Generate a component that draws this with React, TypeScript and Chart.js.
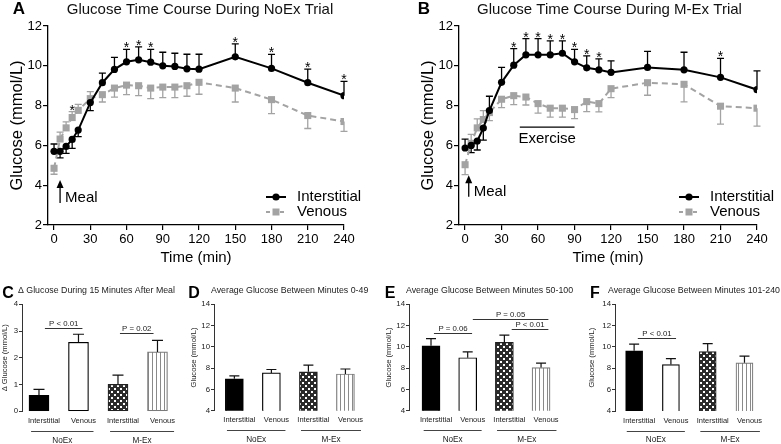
import React, { useEffect, useRef } from "react";
import { Chart, registerables } from "chart.js";

Chart.register(...registerables);

const FONT = '"Liberation Sans", Arial, Helvetica, sans-serif';
const GRAY = "#a3a3a3";

// ---------- Panels A / B : time course ----------
const timePoints = [0, 5, 10, 15, 20, 30, 40, 50, 60, 70, 80, 90, 100, 110, 120, 150, 180, 210, 240];
const timeTicks = [0, 30, 60, 90, 120, 150, 180, 210, 240];
const glucoseTicks = [2, 4, 6, 8, 10, 12];

const noexInterstitial = [5.7, 5.7, 5.95, 6.3, 6.77, 8.15, 9.15, 9.82, 10.2, 10.3, 10.18, 10.0, 9.97, 9.85, 9.83, 10.45, 9.87, 9.15, 8.5];
const noexInterstitialErr = [0.37, 0.33, 0.35, 0.45, 0.33, 0.4, 0.48, 0.6, 0.63, 0.65, 0.65, 0.68, 0.66, 0.73, 0.75, 0.65, 0.7, 0.68, 0.72];
const noexVenous = [4.85, 6.32, 6.88, 7.4, 7.76, 8.35, 8.55, 8.88, 9.03, 9.0, 8.88, 8.93, 8.93, 9.0, 9.17, 8.88, 8.3, 7.5, 7.2];
const noexVenousErr = [0.3, 0.35, 0.3, 0.3, 0.3, 0.35, 0.37, 0.45, 0.48, 0.5, 0.53, 0.53, 0.53, 0.53, 0.6, 0.7, 0.7, 0.65, 0.5];
const noexStarsInterstitial = [60, 70, 80, 150, 180, 210, 240];
const noexStarsVenous = [15];

const mexInterstitial = [5.87, 6.0, 6.22, 6.87, 7.75, 9.17, 10.03, 10.55, 10.55, 10.55, 10.63, 10.2, 9.9, 9.8, 9.67, 9.92, 9.8, 9.42, 8.8];
const mexInterstitialErr = [0.45, 0.36, 0.45, 0.6, 0.72, 0.75, 0.83, 0.82, 0.82, 0.7, 0.62, 0.63, 0.6, 0.55, 0.58, 0.8, 0.88, 0.95, 0.95];
const mexVenous = [5.03, 6.1, 6.88, 7.3, 7.65, 8.32, 8.5, 8.43, 8.1, 7.87, 7.87, 7.8, 8.2, 8.1, 8.85, 9.15, 9.07, 7.97, 7.87];
const mexVenousErr = [0.5, 0.45, 0.45, 0.45, 0.4, 0.42, 0.45, 0.4, 0.48, 0.45, 0.45, 0.45, 0.5, 0.42, 0.45, 0.63, 0.88, 0.9, 0.9];
const mexStarsInterstitial = [40, 50, 60, 70, 80, 90, 100, 110, 210];
const mexStarsVenous: number[] = [];

// ---------- Panels C-F : bars ----------
const barCategories = ["Interstitial", "Venous", "Interstitial", "Venous"];
const barGroups = ["NoEx", "M-Ex"];
const deltaTicks = [0, 1, 2, 3, 4];
const avgTicks = [4, 6, 8, 10, 12, 14];

const deltaMeal = [0.6, 2.58, 1.01, 2.22];
const deltaMealErr = [0.22, 0.3, 0.34, 0.43];
const avg0to49 = [7.0, 7.55, 7.66, 7.45];
const avg0to49Err = [0.28, 0.32, 0.62, 0.47];
const avg50to100 = [10.1, 8.98, 10.42, 8.05];
const avg50to100Err = [0.68, 0.55, 0.68, 0.43];
const avg101to240 = [9.65, 8.35, 9.57, 8.52];
const avg101to240Err = [0.62, 0.56, 0.75, 0.63];

const pValuesC = [
  { from: 0.15, to: 1.1, level: 3.11, text: "P < 0.01" },
  { from: 2.05, to: 2.9, level: 2.93, text: "P = 0.02" },
];
const pValuesD: { from: number; to: number; level: number; text: string }[] = [];
const pValuesE = [
  { from: 0.08, to: 1.12, level: 11.3, text: "P = 0.06" },
  { from: 1.14, to: 3.2, level: 12.62, text: "P = 0.05" },
  { from: 2.2, to: 3.2, level: 11.68, text: "P < 0.01" },
];
const pValuesF = [{ from: 0.1, to: 1.14, level: 10.82, text: "P < 0.01" }];

// ---------- layout specs ----------
const timePanels = [
  {
    box: { left: 0, top: 0, w: 390, h: 280 },
    padLeft: 0, padRight: 46,
    letter: "A", letterX: 19, title: "Glucose Time Course During NoEx Trial", titleX: 200,
    inter: noexInterstitial, interErr: noexInterstitialErr, ven: noexVenous, venErr: noexVenousErr,
    starsInt: noexStarsInterstitial, starsVen: noexStarsVenous,
    meal: { t: 5, top: 4.26, bottom: 3.1, textY: 3.36 },
    exercise: null as null | { from: number; to: number; y: number; textY: number },
  },
  {
    box: { left: 390, top: 0, w: 391, h: 280 },
    padLeft: 21, padRight: 24,
    letter: "B", letterX: 34, title: "Glucose Time Course During M-Ex Trial", titleX: 219.5,
    inter: mexInterstitial, interErr: mexInterstitialErr, ven: mexVenous, venErr: mexVenousErr,
    starsInt: mexStarsInterstitial, starsVen: mexStarsVenous,
    meal: { t: 3, top: 4.5, bottom: 3.42, textY: 3.67 },
    exercise: { from: 45, to: 90, y: 6.92, textY: 6.35 },
  },
];

const barPanels = [
  {
    box: { left: 0, top: 280, w: 186, h: 164 },
    letter: "C", letterX: 8, title: "\u0394 Glucose During 15 Minutes After Meal", titleX: 18,
    yLabel: "\u0394 Glucose (mmol/L)", yTitlePad: 0, yAxisW: 22, padRight: 6,
    xMin: -0.43, xMax: 3.57, barW: 20, capW: 11,
    chartTop: 24.3, chartBottom: 131.3, yMin: 0, yMax: 4, ticks: deltaTicks,
    values: deltaMeal, errs: deltaMealErr, brackets: pValuesC,
  },
  {
    box: { left: 188, top: 280, w: 196, h: 164 },
    letter: "D", letterX: 6, title: "Average Glucose Between Minutes 0-49", titleX: 23,
    yLabel: "Glucose (mmol/L)", yTitlePad: 1.4, yAxisW: 26, padRight: 6,
    xMin: -0.55, xMax: 3.88, barW: 18, capW: 10,
    chartTop: 24.3, chartBottom: 130.7, yMin: 4, yMax: 14, ticks: avgTicks,
    values: avg0to49, errs: avg0to49Err, brackets: pValuesD,
  },
  {
    box: { left: 383, top: 280, w: 200, h: 164 },
    letter: "E", letterX: 7, title: "Average Glucose Between Minutes 50-100", titleX: 23,
    yLabel: "Glucose (mmol/L)", yTitlePad: 1.4, yAxisW: 26, padRight: 6,
    xMin: -0.6, xMax: 3.98, barW: 18, capW: 10,
    chartTop: 24.3, chartBottom: 130.7, yMin: 4, yMax: 14, ticks: avgTicks,
    values: avg50to100, errs: avg50to100Err, brackets: pValuesE,
  },
  {
    box: { left: 586, top: 280, w: 195, h: 164 },
    letter: "F", letterX: 9, title: "Average Glucose Between Minutes 101-240", titleX: 22,
    yLabel: "Glucose (mmol/L)", yTitlePad: 1.4, yAxisW: 29, padRight: 6,
    xMin: -0.52, xMax: 3.83, barW: 17, capW: 10,
    chartTop: 24.3, chartBottom: 131, yMin: 4, yMax: 14, ticks: avgTicks,
    values: avg101to240, errs: avg101to240Err, brackets: pValuesF,
  },
];
const groupSpans = [[-0.2, 1.38], [1.8, 3.42]];

// ---------- helpers ----------
function makeChecker(): CanvasPattern {
  const c = document.createElement("canvas");
  c.width = 6; c.height = 6;
  const g = c.getContext("2d")!;
  g.fillStyle = "#2b2b2b"; g.fillRect(0, 0, 6, 6);
  g.fillStyle = "#ffffff"; g.fillRect(0, 0, 2, 2); g.fillRect(3, 3, 2, 2);
  return g.createPattern(c, "repeat")!;
}
function makeStripes(): CanvasPattern {
  const c = document.createElement("canvas");
  c.width = 4; c.height = 4;
  const g = c.getContext("2d")!;
  g.fillStyle = "#ffffff"; g.fillRect(0, 0, 4, 4);
  g.fillStyle = "#8a8a8a"; g.fillRect(0, 0, 1, 4);
  return g.createPattern(c, "repeat")!;
}

const common = {
  responsive: false,
  maintainAspectRatio: false,
  animation: false as const,
  devicePixelRatio: 1,
  events: [] as any[],
  plugins: { legend: { display: false }, tooltip: { enabled: false }, title: { display: false } },
};

function timePlugin(p: any) {
  return {
    id: "time" + p.letter,
    beforeDatasetsDraw(chart: any) {
      const { ctx } = chart;
      const xs = chart.scales.x, ys = chart.scales.y;
      const series = [
        { v: p.inter, e: p.interErr, o: p.ven, color: "#000" },
        { v: p.ven, e: p.venErr, o: p.inter, color: GRAY },
      ];
      ctx.save();
      series.forEach((s) => {
        ctx.strokeStyle = s.color;
        ctx.lineWidth = 1.3;
        timePoints.forEach((t, i) => {
          const up = s.v[i] >= s.o[i];
          const end = up ? s.v[i] + s.e[i] : s.v[i] - s.e[i];
          const x = xs.getPixelForValue(t);
          const y0 = ys.getPixelForValue(s.v[i]);
          const y1 = ys.getPixelForValue(end);
          ctx.beginPath();
          ctx.moveTo(x, y0); ctx.lineTo(x, y1);
          ctx.moveTo(x - 3.5, y1); ctx.lineTo(x + 3.5, y1);
          ctx.stroke();
        });
      });
      ctx.restore();
    },
    afterDraw(chart: any) {
      const { ctx, chartArea } = chart;
      const xs = chart.scales.x, ys = chart.scales.y;
      ctx.save();
      // stars
      ctx.fillStyle = "#000";
      ctx.font = `14px ${FONT}`;
      ctx.textAlign = "center";
      ctx.textBaseline = "alphabetic";
      const star = (t: number, v: number[], e: number[]) => {
        const i = timePoints.indexOf(t);
        const y = ys.getPixelForValue(v[i] + e[i]);
        ctx.fillText("*", xs.getPixelForValue(t), y + 3);
      };
      p.starsInt.forEach((t: number) => star(t, p.inter, p.interErr));
      p.starsVen.forEach((t: number) => star(t, p.ven, p.venErr));
      // meal arrow
      const mx = xs.getPixelForValue(p.meal.t);
      const top = ys.getPixelForValue(p.meal.top);
      const bot = ys.getPixelForValue(p.meal.bottom);
      ctx.strokeStyle = "#000"; ctx.lineWidth = 1.3;
      ctx.beginPath(); ctx.moveTo(mx, bot); ctx.lineTo(mx, top + 6); ctx.stroke();
      ctx.beginPath(); ctx.moveTo(mx, top); ctx.lineTo(mx - 3.5, top + 8); ctx.lineTo(mx + 3.5, top + 8); ctx.closePath(); ctx.fill();
      ctx.font = `15px ${FONT}`;
      ctx.textAlign = "left"; ctx.textBaseline = "middle";
      ctx.fillText("Meal", mx + 5, ys.getPixelForValue(p.meal.textY));
      // exercise
      if (p.exercise) {
        const ey = ys.getPixelForValue(p.exercise.y);
        const x1 = xs.getPixelForValue(p.exercise.from), x2 = xs.getPixelForValue(p.exercise.to);
        ctx.lineWidth = 1.2;
        ctx.beginPath(); ctx.moveTo(x1, ey); ctx.lineTo(x2, ey); ctx.stroke();
        ctx.textAlign = "center";
        ctx.fillText("Exercise", (x1 + x2) / 2, ys.getPixelForValue(p.exercise.textY));
      }
      // legend
      const lx = chartArea.right - 78, tx = chartArea.right - 47;
      const y1 = chartArea.bottom - 28, y2 = chartArea.bottom - 13;
      ctx.strokeStyle = "#000"; ctx.lineWidth = 2;
      ctx.beginPath(); ctx.moveTo(lx, y1); ctx.lineTo(lx + 20, y1); ctx.stroke();
      ctx.beginPath(); ctx.arc(lx + 10, y1, 3.6, 0, Math.PI * 2); ctx.fill();
      ctx.strokeStyle = GRAY; ctx.setLineDash([4, 3]);
      ctx.beginPath(); ctx.moveTo(lx, y2); ctx.lineTo(lx + 20, y2); ctx.stroke();
      ctx.setLineDash([]);
      ctx.fillStyle = GRAY; ctx.fillRect(lx + 6.5, y2 - 3.5, 7, 7);
      ctx.fillStyle = "#000";
      ctx.textAlign = "left"; ctx.textBaseline = "middle";
      ctx.font = `15px ${FONT}`;
      ctx.fillText("Interstitial", tx, y1);
      ctx.fillText("Venous", tx, y2);
      // title and letter
      ctx.textAlign = "center";
      ctx.fillStyle = "#111";
      ctx.fillText(p.title, p.titleX, 10);
      ctx.font = `bold 17px ${FONT}`;
      ctx.fillStyle = "#000";
      ctx.fillText(p.letter, p.letterX, 9);
      ctx.restore();
    },
  };
}

function timeConfig(p: any): any {
  const axisStyle = {
    grid: { drawOnChartArea: false, drawTicks: true, tickLength: 5, color: "#000", lineWidth: 1.2 },
    border: { display: true, color: "#000", width: 1.3 },
  };
  return {
    type: "line",
    data: {
      datasets: [
        {
          label: "Interstitial",
          data: timePoints.map((t, i) => ({ x: t, y: p.inter[i] })),
          borderColor: "#000", backgroundColor: "#000", borderWidth: 2,
          pointStyle: "circle", pointRadius: 3.6, pointBackgroundColor: "#000", pointBorderWidth: 0,
        },
        {
          label: "Venous",
          data: timePoints.map((t, i) => ({ x: t, y: p.ven[i] })),
          borderColor: GRAY, backgroundColor: GRAY, borderWidth: 2, borderDash: [6, 4],
          pointStyle: "rect", pointRadius: 5, pointBackgroundColor: GRAY, pointBorderWidth: 0,
        },
      ],
    },
    options: {
      ...common,
      layout: { padding: { left: p.padLeft, right: p.padRight, top: 26, bottom: 0 } },
      scales: {
        x: {
          type: "linear", min: -5, max: 240,
          afterFit: (s: any) => { s.height = 55; },
          afterBuildTicks: (s: any) => { s.ticks = timeTicks.map((v) => ({ value: v })); },
          ticks: { font: { size: 13, family: FONT }, color: "#000", padding: 2, maxRotation: 0, autoSkip: false },
          title: { display: true, text: "Time (min)", color: "#000", font: { size: 15, family: FONT }, padding: { top: 0, bottom: 13 } },
          ...axisStyle,
        },
        y: {
          type: "linear", min: 2, max: 12,
          afterFit: (s: any) => { s.width = 48; },
          afterBuildTicks: (s: any) => { s.ticks = glucoseTicks.map((v) => ({ value: v })); },
          ticks: { font: { size: 13, family: FONT }, color: "#000", padding: 1 },
          title: { display: true, text: "Glucose (mmol/L)", color: "#000", font: { size: 16.5, family: FONT }, padding: { top: 8, bottom: 0 } },
          ...axisStyle,
        },
      },
    },
    plugins: [timePlugin(p)],
  };
}

function barPlugin(p: any) {
  return {
    id: "bars" + p.letter,
    afterDatasetsDraw(chart: any) {
      const { ctx } = chart;
      const xs = chart.scales.x, ys = chart.scales.y;
      ctx.save();
      ctx.strokeStyle = "#111"; ctx.lineWidth = 1.2;
      p.values.forEach((v: number, i: number) => {
        const x = xs.getPixelForValue(i);
        const y0 = ys.getPixelForValue(v);
        const y1 = ys.getPixelForValue(v + p.errs[i]);
        ctx.beginPath();
        ctx.moveTo(x, y0); ctx.lineTo(x, y1);
        ctx.moveTo(x - p.capW / 2, y1); ctx.lineTo(x + p.capW / 2, y1);
        ctx.stroke();
      });
      ctx.strokeStyle = "#333"; ctx.lineWidth = 1;
      ctx.fillStyle = "#222";
      ctx.font = `7.8px ${FONT}`;
      ctx.textAlign = "center"; ctx.textBaseline = "bottom";
      p.brackets.forEach((b: any) => {
        const y = Math.round(ys.getPixelForValue(b.level)) + 0.5;
        const x1 = xs.getPixelForValue(b.from), x2 = xs.getPixelForValue(b.to);
        ctx.beginPath(); ctx.moveTo(x1, y); ctx.lineTo(x2, y); ctx.stroke();
        ctx.fillText(b.text, (x1 + x2) / 2, y - 0.5);
      });
      ctx.restore();
    },
    afterDraw(chart: any) {
      const { ctx, chartArea } = chart;
      const xs = chart.scales.x;
      ctx.save();
      const gy = Math.round(chartArea.bottom + 19.5) + 0.5;
      ctx.strokeStyle = "#444"; ctx.lineWidth = 1;
      ctx.fillStyle = "#222";
      ctx.font = `8.2px ${FONT}`;
      ctx.textAlign = "center"; ctx.textBaseline = "middle";
      groupSpans.forEach((s, gi) => {
        const x1 = xs.getPixelForValue(s[0]), x2 = xs.getPixelForValue(s[1]);
        ctx.beginPath(); ctx.moveTo(x1, gy); ctx.lineTo(x2, gy); ctx.stroke();
        ctx.fillText(barGroups[gi], (x1 + x2) / 2, chartArea.bottom + 29);
      });
      ctx.fillStyle = "#000";
      ctx.font = `bold 16px ${FONT}`;
      ctx.fillText(p.letter, p.letterX, 14);
      ctx.fillStyle = "#222";
      ctx.font = `8.8px ${FONT}`;
      ctx.textAlign = "left";
      ctx.fillText(p.title, p.titleX, 10.5);
      ctx.restore();
    },
  };
}

function barConfig(p: any, checker: CanvasPattern, stripes: CanvasPattern): any {
  return {
    type: "bar",
    data: {
      datasets: [
        {
          data: p.values.map((v: number, i: number) => ({ x: i, y: v })),
          backgroundColor: ["#000", "#fff", checker, stripes],
          borderColor: ["#000", "#000", "#222", "#7a7a7a"],
          borderWidth: 1.2,
          borderSkipped: false,
          barThickness: p.barW,
        },
      ],
    },
    options: {
      ...common,
      layout: { padding: { left: 0, right: p.padRight, top: p.chartTop, bottom: 0 } },
      scales: {
        x: {
          type: "linear", min: p.xMin, max: p.xMax, offset: false,
          afterFit: (s: any) => { s.height = p.box.h - p.chartBottom; },
          afterBuildTicks: (s: any) => { s.ticks = barCategories.map((_, i) => ({ value: i })); },
          ticks: {
            callback: (v: any) => barCategories[Math.round(Number(v))] ?? "",
            font: { size: 7.5, family: FONT }, color: "#222", padding: 5, labelOffset: 5,
            maxRotation: 0, autoSkip: false,
          },
          grid: { display: false, drawTicks: false, tickLength: 0 },
          border: { display: false },
        },
        y: {
          type: "linear", min: p.yMin, max: p.yMax,
          afterFit: (s: any) => { s.width = p.yAxisW; },
          afterBuildTicks: (s: any) => { s.ticks = p.ticks.map((v: number) => ({ value: v })); },
          ticks: { font: { size: 7.8, family: FONT }, color: "#222", padding: 1 },
          grid: { drawOnChartArea: false, drawTicks: true, tickLength: 3, color: "#333", lineWidth: 1 },
          border: { display: true, color: "#333", width: 1 },
          title: { display: true, text: p.yLabel, color: "#222", font: { size: 7.6, family: FONT }, padding: { top: p.yTitlePad, bottom: 0 } },
        },
      },
    },
    plugins: [barPlugin(p)],
  };
}

const boxes = [...timePanels.map((p) => p.box), ...barPanels.map((p) => p.box)];

export default function App() {
  const canvases = useRef<(HTMLCanvasElement | null)[]>([]);
  useEffect(() => {
    document.body.style.margin = "0";
    const checker = makeChecker();
    const stripes = makeStripes();
    const configs = [
      ...timePanels.map((p) => timeConfig(p)),
      ...barPanels.map((p) => barConfig(p, checker, stripes)),
    ];
    const charts = configs.map((cfg, i) => new Chart(canvases.current[i]!, cfg));
    return () => charts.forEach((c) => c.destroy());
  }, []);
  return (
    <div style={{ position: "absolute", left: 0, top: 0, width: 781, height: 444, background: "#fff", overflow: "hidden" }}>
      {boxes.map((b, i) => (
        <canvas
          key={i}
          ref={(el) => { canvases.current[i] = el; }}
          width={b.w}
          height={b.h}
          style={{ position: "absolute", left: b.left, top: b.top, width: b.w, height: b.h }}
        />
      ))}
    </div>
  );
}
